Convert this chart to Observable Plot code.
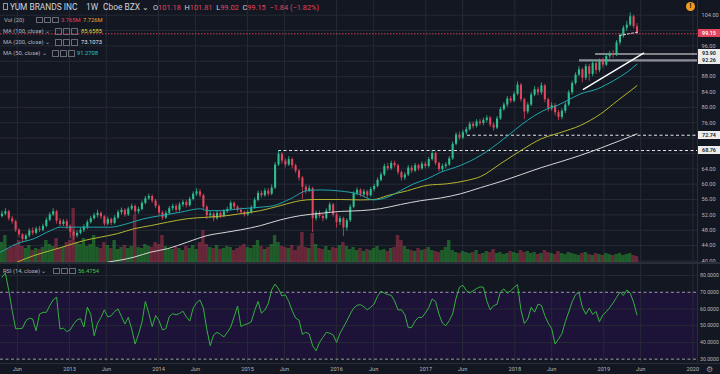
<!DOCTYPE html>
<html><head><meta charset="utf-8">
<script src="https://cdn.jsdelivr.net/npm/d3@7"></script>
<script src="https://cdn.jsdelivr.net/npm/@observablehq/plot@0.6"></script>
<style>
html,body{margin:0;padding:0;background:#131722;}
#wrap{position:relative;width:720px;height:374px;overflow:hidden;background:#131722;font-family:Roboto,"Noto Sans",sans-serif;}
#wrap svg{position:absolute;left:0;}
.t{position:absolute;white-space:nowrap;color:#b2b5be;font-size:5.8px;line-height:8px;}
.ico{display:inline-block;width:4.5px;height:4.5px;border:0.8px solid #6a6d78;margin-right:1.6px;vertical-align:middle;border-radius:0.5px;}
.lab{position:absolute;left:698px;width:22px;height:8px;line-height:8px;font-size:5.4px;text-align:center;font-weight:600;}
.sep{position:absolute;background:#2a2e39;}
</style></head>
<body><div id="wrap"></div>
<script>
// ---------------- data ----------------
const firstDate = "2012-03-30";      // first weekly bar shown (2-week sampling)
const stepDays = 14;
const firstOpen = 51.6;
const closes = [
52.2,52.8,51.0,50.2,48.0,46.8,45.6,46.5,47.8,47.2,
48.3,48.0,49.0,50.6,52.0,52.8,50.4,49.5,50.2,49.0,
47.5,46.5,47.2,48.0,48.8,50.0,51.0,51.8,52.4,51.5,
49.6,50.8,49.8,51.2,52.6,53.2,52.0,53.5,54.2,52.8,
53.4,55.0,56.2,56.8,55.6,54.2,52.5,51.2,52.4,53.6,
54.2,53.2,54.6,55.2,54.4,56.0,57.4,58.0,57.0,54.0,
51.8,52.2,51.0,52.4,51.6,52.8,53.4,55.0,54.0,53.2,
52.6,52.0,52.6,53.8,55.8,57.6,57.0,58.2,57.4,59.0,
65.0,67.8,66.0,65.0,66.4,64.8,63.4,61.6,59.2,58.2,
58.8,51.0,52.4,51.6,51.0,53.0,54.6,52.0,50.0,51.0,
48.6,50.5,54.0,57.6,58.4,57.2,58.0,57.0,58.6,59.4,
61.0,62.4,64.6,64.0,65.4,64.8,63.0,61.6,62.4,64.2,
63.4,64.8,64.0,65.2,64.6,66.4,68.0,65.4,63.8,64.6,
65.0,66.6,70.4,72.8,72.0,73.4,74.2,75.6,75.0,76.2,
75.8,76.6,77.2,75.4,74.6,77.0,79.4,80.6,82.2,81.6,
83.4,85.8,82.0,78.8,80.6,83.2,84.6,83.8,85.6,82.0,
79.6,80.4,78.6,77.4,79.0,80.6,83.8,86.2,88.4,89.8,
87.6,90.6,88.6,91.4,89.6,92.0,91.0,93.2,94.0,93.6,
96.8,98.6,100.6,101.4,103.6,101.0,99.15];
const highs = [
53.0,53.6,53.2,51.6,50.6,48.4,47.2,47.0,48.4,48.6,
48.8,49.0,49.6,51.2,52.6,53.6,53.2,51.0,50.8,50.8,
49.4,48.0,47.8,48.6,49.4,50.6,51.6,52.4,53.2,52.8,
51.8,51.4,51.2,51.8,53.2,53.8,53.6,54.0,54.8,54.6,
54.0,55.6,56.8,57.4,57.2,56.0,54.6,53.0,53.0,54.2,
54.8,54.8,55.2,55.8,55.8,56.6,58.0,58.8,58.6,57.4,
54.4,52.8,52.6,53.0,52.8,53.4,54.0,55.6,55.4,54.4,
53.8,53.0,53.2,54.4,56.4,58.2,58.2,58.8,58.8,59.8,
65.6,68.76,68.2,66.6,67.2,66.8,65.2,63.8,62.0,59.8,
59.6,59.2,53.0,53.0,52.2,53.6,55.2,55.0,52.4,51.6,
51.4,51.0,54.6,58.0,59.0,58.8,58.6,58.4,59.2,60.0,
61.6,63.0,65.2,65.4,66.0,66.0,65.2,63.4,63.0,64.8,
64.8,65.4,65.2,65.8,65.8,67.0,68.8,68.4,65.8,65.2,
65.6,67.2,71.0,73.4,73.6,74.0,74.8,76.2,76.2,76.8,
76.8,77.2,77.8,77.6,76.0,77.6,80.0,81.2,82.8,82.8,
84.0,86.6,86.2,82.4,81.2,83.8,85.4,85.2,86.4,86.0,
82.4,81.2,81.0,79.2,79.6,81.2,84.4,86.8,89.0,90.6,
90.2,91.2,91.2,92.2,91.8,92.6,92.8,93.8,94.6,94.8,
97.4,99.2,101.2,102.4,104.6,104.0,101.81];
const lows = [
51.2,51.8,50.4,49.6,47.4,46.0,44.8,45.0,46.0,46.6,
46.8,47.4,47.6,48.6,50.2,51.6,49.6,48.8,49.0,48.2,
45.8,45.4,46.0,46.8,47.4,48.2,49.6,50.6,51.2,50.8,
49.0,49.2,49.2,49.4,50.8,52.0,51.4,51.6,53.0,51.8,
52.2,53.0,54.6,55.8,55.0,53.6,51.8,50.6,50.8,52.0,
53.0,52.6,52.8,54.0,53.8,54.0,55.6,56.8,56.4,53.2,
50.8,51.0,50.2,50.6,51.0,51.2,52.4,53.0,53.4,52.6,
52.0,51.4,51.6,52.2,53.4,55.4,56.4,56.6,56.8,57.0,
58.6,64.6,65.2,64.2,64.6,64.0,62.8,60.8,56.0,57.4,
57.8,47.4,50.4,51.0,50.2,50.6,52.6,51.4,48.6,49.2,
46.4,47.8,50.0,53.6,57.0,56.6,56.6,56.2,56.6,58.0,
59.0,60.6,62.0,63.4,63.6,64.2,62.4,60.8,61.0,62.0,
62.8,63.0,63.4,63.6,64.0,64.2,66.0,64.8,63.2,63.2,
64.0,64.6,66.2,70.0,71.4,71.6,72.8,73.8,74.4,74.6,
75.2,75.2,76.0,74.8,73.8,74.2,76.6,79.0,80.0,81.0,
81.2,83.0,81.4,76.8,78.2,80.2,82.8,83.0,83.2,81.2,
78.8,79.0,77.8,76.6,76.8,78.4,80.2,83.2,85.8,88.0,
86.4,87.0,86.8,88.0,88.6,89.0,90.2,90.6,92.6,92.8,
93.2,96.2,98.0,99.8,101.0,100.4,99.02];
// volume, millions of shares
const volumes = [
10,13.5,7,7.5,9,11,8,7,8.5,6,
7,6.5,7.5,11,9,8,12,7,7.5,10,
11,27,10,9,12,8,9,13.5,7.5,7,
10,8.5,7,11,6.5,7.5,8.5,7,8,23.5,
7.5,7,9,8,7.5,10,9,13.5,8,7,
6.5,7.5,7,6,8,7,8.5,6.5,10,16,
9,7.5,7,8.5,6.5,7,8,7.5,6,7,
8,9,7.5,7,8.5,11,8,6.5,7.5,9,
13.5,10,8,7.5,7,8.5,6,8,15,7.5,
7,14.5,9,7,6.5,8,6,7.5,7,8.5,
10,8,6.5,7.5,6,7,5.5,6.5,6,7,
8,6,6.5,5.5,7,7.5,13.5,11,8,6.5,
6,5.5,7,6,6.5,7.5,6,5.5,5,6,
7.5,11,6,5,4.5,5.5,5,4.5,5,6,
4,4.5,5.5,5,6.5,4.5,5,4,4.5,5.5,
5,4.5,6,5,5.5,4.5,5,4,4.5,6,
5,4.5,4,5.5,4.5,4,5,4.5,4,3.5,
4.5,5,4,3.5,4.5,4,3.5,4.5,4,3.5,
4,4.5,3.5,4,4.5,3.5,3];
// RSI(14) read at each bar
const rsiValues = [
79,81.5,71,59,48.2,48.2,48.5,53,54.5,54,
47,57,58,58,62,65.5,67,48,48.5,46.5,
47.5,51,53.5,54.2,49.2,61.1,56.8,44,51.5,55,
59.5,55.3,56,58.5,60,55.5,51,55,48,39,
45,52,64.5,57.5,49.5,56.1,53,47.5,48.2,55.5,
57.2,56.5,57.3,58.7,55.3,52.8,60.5,63.7,65.4,60.5,
47.8,38,44.5,46,44.8,43.3,46,49.2,55.3,61.8,
49.5,50.6,51.2,52.3,59,64.5,57.5,59.4,63.3,71.5,
74.9,72,67.8,68.5,64.5,59,54.6,53.3,44.8,46.1,
45,38,35,40,43,46.1,45.5,44.5,40,45.5,
49,52.9,57,60.5,62.2,62.6,61.3,59.5,61,63,
67.6,70.6,69.5,68.6,68.2,64.8,59.4,59.6,56.6,48.8,
49,52.8,55,54.9,57.6,60.7,66,64.5,56.9,51.6,
50,53,57,66.5,73,74.2,71,69.6,70.9,72.2,
73.2,73,64.8,59.5,62,62.8,70.2,72,69.5,70.9,
72.9,74.5,59.5,51.3,54,61,58.1,62.9,62.1,56,
51.5,48.3,39,42,45.2,52.4,58.2,64.3,68.6,69.8,
60.9,56.9,60.5,56.8,58.5,52.4,56.5,58.3,60.8,63.6,
66.9,70.1,68.1,71.3,69.5,64,56.48];

const ma50Dates = ["2012-03-24","2012-05-31","2012-08-08","2012-10-15","2012-11-25","2013-02-01","2013-04-10","2013-06-18","2013-08-25","2013-11-02","2014-01-09","2014-04-01","2014-06-22","2014-07-19","2014-09-12","2014-12-03","2015-02-23","2015-04-18","2015-06-26","2015-09-02","2015-10-27","2016-01-17","2016-03-26","2016-06-02","2016-07-27","2016-09-19","2016-11-13","2017-01-07","2017-03-03","2017-05-24","2017-08-14","2017-11-17","2018-02-21","2018-05-14","2018-06-24","2018-08-04","2018-09-27","2018-12-05","2019-02-11","2019-04-07","2019-05-17"];
const ma50Values = [42.3,44.5,45.8,47.9,48.8,48.8,48.8,48.8,49.7,51.0,51.8,52.7,53.6,53.1,53.1,53.6,54.0,54.4,56.2,58.3,58.5,58.2,57.5,55.9,56.6,58.3,60.1,61.4,63.1,64.9,67.5,71.8,76.6,79.6,80.5,81.8,83.5,84.8,87.0,89.2,91.27];
const ma100Dates = ["2012-05-31","2012-08-08","2012-10-15","2012-12-23","2013-02-28","2013-05-08","2013-07-16","2013-09-23","2013-11-30","2014-02-07","2014-04-29","2014-07-19","2014-10-08","2014-12-03","2015-02-23","2015-05-15","2015-08-05","2015-09-29","2016-01-17","2016-04-07","2016-06-02","2016-07-27","2016-10-18","2017-01-07","2017-03-30","2017-06-21","2017-08-14","2017-11-05","2018-01-27","2018-04-19","2018-07-10","2018-09-27","2018-12-19","2019-02-27","2019-04-22","2019-05-17"];
const ma100Values = [39.7,41.4,42.7,44.0,45.3,46.2,47.1,48.4,49.2,50.1,51.0,51.4,51.8,52.3,53.1,54.4,55.7,56.0,56.0,55.9,56.0,57.0,58.3,59.7,60.1,61.0,62.0,65.4,68.8,71.8,73.5,75.3,78.3,81.8,84.4,85.66];
const ma200Dates = ["2013-06-07","2013-09-23","2013-11-30","2014-02-07","2014-04-29","2014-07-19","2014-10-08","2014-12-03","2015-02-23","2015-05-15","2015-08-05","2015-10-27","2016-01-17","2016-04-07","2016-06-28","2016-09-19","2016-12-11","2017-03-03","2017-05-24","2017-08-14","2017-11-05","2018-01-27","2018-04-19","2018-07-10","2018-09-27","2018-12-19","2019-03-11","2019-05-17"];
const ma200Values = [39.7,41.0,42.3,43.2,44.9,46.6,47.5,48.1,49.2,50.7,51.8,52.4,52.9,53.1,53.6,54.7,55.7,56.4,57.5,59.1,60.7,62.5,64.3,65.9,67.5,69.4,71.4,73.1];

const levelPrices = [93.90, 92.26, 72.74, 68.76];
const levelStarts = ["2018-11-28", "2018-09-23", "2017-06-21", "2015-05-08"];
const levelStyles = ["solid", "band", "dashed", "dashed"];
const trendDates = ["2018-10-09", "2019-06-13"];
const trendPrices = [84.7, 94.1];
const shortDates = ["2019-03-07", "2019-05-20"];
const shortPrices = [98.7, 99.6];

const priceTicks = [40,44,48,52,56,60,64,68,72,76,80,84,88,92,96,100,104];
const priceLabelTicks = [40,44,48,52,56,60,64,76,80,84,88,96,104]; // others sit under value labels
const rsiTicks = [30,40,50,60,70,80];
const rsiLevels = [30, 70];
const timeTicks = ["2012-06-01","2013-01-01","2013-06-01","2014-01-01","2014-06-01","2015-01-01","2015-06-01","2016-01-01","2016-06-01","2017-01-01","2017-06-01","2018-01-01","2018-06-01","2019-01-01","2019-06-01","2020-01-01"];
const timeLabels = ["Jun","2013","Jun","2014","Jun","2015","Jun","2016","Jun","2017","Jun","2018","Jun","2019","Jun","2020"];

// ---------------- build ----------------
const W = 720, paneH = 262, paneSvgH = 270, rsiTop = 262, rsiH = 112;
const xDomain = [new Date("2012-03-24"), new Date("2020-01-20")];
const yDomain = [39.6, 107.83];
const gridC = "#262a35";
const upC = "#2fbf8e", downC = "#e2445c";
const FONT = "Roboto, 'Noto Sans', sans-serif";
const start = new Date(firstDate);
const bars = closes.map((c, i) => {
  const date = d3.utcDay.offset(start, stepDays * i);
  const open = i ? closes[i - 1] : firstOpen;
  return {date, open, close: c, high: highs[i], low: lows[i], vol: volumes[i], rsi: rsiValues[i],
    dir: c >= open ? "up" : "down",
    x1: d3.utcDay.offset(date, -stepDays / 2), x2: d3.utcDay.offset(date, stepDays / 2)};
});
const toSeries = (ds, vs) => ds.map((d, i) => ({date: new Date(d), v: vs[i]}));
const ma50 = toSeries(ma50Dates, ma50Values);
const ma100 = toSeries(ma100Dates, ma100Values);
const ma200 = toSeries(ma200Dates, ma200Values);
const levels = levelPrices.map((p, i) => ({price: p, start: new Date(levelStarts[i]), end: xDomain[1], style: levelStyles[i]}));
const trend = toSeries(trendDates, trendPrices);
const shortSeg = toSeries(shortDates, shortPrices);
const tDates = timeTicks.map(d => new Date(d));
const lastClose = closes[closes.length - 1];

const common = {width: W, marginLeft: 0, marginRight: 23,
  style: {background: "transparent", color: "#b2b5be", fontSize: "5.6px", fontFamily: FONT, overflow: "visible"}};
const paneMargins = {height: paneSvgH, marginTop: 0, marginBottom: paneSvgH - paneH};
const wrap = document.getElementById("wrap");

// base: grid + price axis
const base = Plot.plot({...common, ...paneMargins,
  x: {type: "utc", domain: xDomain, axis: null},
  y: {domain: yDomain, axis: "right", ticks: priceLabelTicks, tickFormat: d => d.toFixed(2), tickSize: 0, tickPadding: 4, label: null},
  marks: [
    Plot.ruleY(priceTicks, {stroke: gridC, strokeWidth: 1}),
    Plot.ruleX(tDates, {stroke: gridC, strokeWidth: 1})
  ]});
base.style.top = "0px";
wrap.appendChild(base);

// volume overlay
const vol = Plot.plot({...common, ...paneMargins,
  x: {type: "utc", domain: xDomain, axis: null},
  y: {domain: [0, 131], axis: null},
  color: {domain: ["up", "down"], range: ["rgba(40,150,50,0.55)", "rgba(190,55,80,0.5)"]},
  marks: [Plot.rectY(bars, {x1: "x1", x2: "x2", y: "vol", fill: "dir", inset: 0})]});
vol.style.top = "0px";
wrap.appendChild(vol);

// price marks
const price = Plot.plot({...common, ...paneMargins,
  x: {type: "utc", domain: xDomain, axis: null},
  y: {domain: yDomain, axis: null},
  color: {domain: ["up", "down"], range: [upC, downC]},
  marks: [
    Plot.ruleY([lastClose], {stroke: "#e2445c", strokeWidth: 0.9, strokeDasharray: "1.5,1.5"}),
    Plot.ruleY(levels.filter(d => d.style === "dashed"), {y: "price", x1: "start", x2: "end", stroke: "#e6e6e6", strokeWidth: 1, strokeDasharray: "3,2.5"}),
    Plot.ruleY(levels.filter(d => d.style === "band"), {y: "price", x1: "start", x2: "end", stroke: "#8d909a", strokeWidth: 2.2}),
    Plot.ruleY(levels.filter(d => d.style === "solid"), {y: "price", x1: "start", x2: "end", stroke: "#f0f0f0", strokeWidth: 1.2}),
    Plot.ruleX(bars, {x: "date", y1: "low", y2: "high", stroke: "dir", strokeWidth: 0.8}),
    Plot.ruleX(bars, {x: "date", y1: "open", y2: "close", stroke: "dir", strokeWidth: 2.1}),
    Plot.line(ma200, {x: "date", y: "v", stroke: "#d6d6d6", strokeWidth: 1, curve: "monotone-x", clip: true}),
    Plot.line(ma100, {x: "date", y: "v", stroke: "#b5b52e", strokeWidth: 1, curve: "monotone-x", clip: true}),
    Plot.line(ma50, {x: "date", y: "v", stroke: "#1fa6ad", strokeWidth: 1, curve: "monotone-x", clip: true}),
    Plot.line(trend, {x: "date", y: "v", stroke: "#ffffff", strokeWidth: 1.4}),
    Plot.line(shortSeg, {x: "date", y: "v", stroke: "#e6e6e6", strokeWidth: 0.9, strokeDasharray: "2,2"})
  ]});
price.style.top = "0px";
wrap.appendChild(price);

// RSI pane
const rsiBand = [{start: xDomain[0], end: xDomain[1], lo: rsiLevels[0], hi: rsiLevels[1]}];
const rsi = Plot.plot({...common, height: rsiH, marginTop: 0, marginBottom: 12,
  x: {type: "utc", domain: xDomain, ticks: tDates, tickFormat: (d, i) => timeLabels[i], tickSize: 0, tickPadding: 5, label: null},
  y: {domain: [28.0, 87.8], axis: "right", ticks: rsiTicks, tickFormat: d => d.toFixed(4), tickSize: 0, tickPadding: 2.5, label: null},
  marks: [
    Plot.rect(rsiBand, {x1: "start", x2: "end", y1: "lo", y2: "hi", fill: "#1d1238"}),
    Plot.ruleY(rsiTicks.filter(t => !rsiLevels.includes(t)), {stroke: gridC, strokeWidth: 1}),
    Plot.ruleX(tDates, {stroke: gridC, strokeWidth: 1}),
    Plot.ruleY(rsiLevels, {stroke: "#a9abb3", strokeWidth: 0.9, strokeDasharray: "3,2.5"}),
    Plot.line(bars, {x: "date", y: "rsi", stroke: "#33b23e", strokeWidth: 1})
  ]});
rsi.style.top = rsiTop + "px";
rsi.querySelectorAll('[aria-label="y-axis tick label"] text, g[aria-label="y-axis"] text').forEach(t => t.style.fontSize = "5.2px");
wrap.appendChild(rsi);

// frame separators
function sep(l, t, w, h) { const d = document.createElement("div"); d.className = "sep"; Object.assign(d.style, {left: l + "px", top: t + "px", width: w + "px", height: h + "px"}); wrap.appendChild(d); }
sep(0, 262, 720, 2);
sep(697, 0, 1, 363);
sep(0, 363, 720, 1);

// right-axis value labels, positioned with the price scale
const ys = price.scale("y");
function lab(v, bg, fg) {
  const d = document.createElement("div"); d.className = "lab";
  d.textContent = v.toFixed(2);
  Object.assign(d.style, {top: (ys.apply(v) - 4) + "px", background: bg, color: fg});
  wrap.appendChild(d);
}
lab(lastClose, "#e2445c", "#ffffff");
levelPrices.forEach(p => lab(p, "#ececec", "#131722"));

// legends
function txt(html, l, t, extra) {
  const d = document.createElement("div"); d.className = "t"; d.innerHTML = html;
  Object.assign(d.style, {left: l + "px", top: t + "px"}, extra || {});
  wrap.appendChild(d); return d;
}
const icons = '<span class="ico"></span><span class="ico"></span><span class="ico"></span>';
const red = s => `<span style="color:#e2445c">${s}</span>`;
txt('<span class="ico" style="border-color:#9598a1;width:3px;height:5px"></span>', 3, 2.5);
txt('YUM BRANDS INC', 10, 2, {fontSize: "8.4px", lineHeight: "10px", color: "#d1d4dc"});
txt('1W', 86, 2, {fontSize: "8.4px", lineHeight: "10px", color: "#d1d4dc"});
txt('Cboe BZX ⌄', 103, 2, {fontSize: "8.4px", lineHeight: "10px", color: "#d1d4dc"});
txt(`O${red("101.18")}&nbsp;&nbsp;H${red("101.81")}&nbsp;&nbsp;L${red("99.02")}&nbsp;&nbsp;C${red("99.15")}&nbsp;&nbsp;${red("−1.84 (−1.82%)")}`, 153, 2.5, {fontSize: "7.4px", lineHeight: "10px", color: "#d1d4dc"});
txt('Vol (20)', 4, 15.5); txt(icons, 36, 15.5);
txt(red("3.765M"), 61, 15.5); txt('<span style="color:#f0a030">7.726M</span>', 83, 15.5);
txt('MA (100, close) ⌄', 3, 27); txt(icons, 55, 27); txt('<span style="color:#d9d93a">85.6585</span>', 81, 27);
txt('MA (200, close) ⌄', 3, 38); txt(icons, 55, 38); txt('<span style="color:#e8e8e8">73.1073</span>', 81, 38);
txt('MA (50, close) ⌄', 3, 49); txt(icons, 52, 49); txt('<span style="color:#2ac3d0">91.2708</span>', 77, 49);
txt('RSI (14, close) ⌄', 3, 266.5); txt(icons, 53, 266.5); txt('<span style="color:#3ec84a">56.4754</span>', 78, 266.5);

// decorations: alert badge and settings gear
txt('!', 686, 2, {width: "9px", height: "9px", lineHeight: "9px", borderRadius: "50%", background: "#f39c1f", color: "#131722", textAlign: "center", fontSize: "7px", fontWeight: "700"});
txt('⚙', 706, 365, {fontSize: "8px", lineHeight: "9px", color: "#9598a1"});
</script></body></html>
